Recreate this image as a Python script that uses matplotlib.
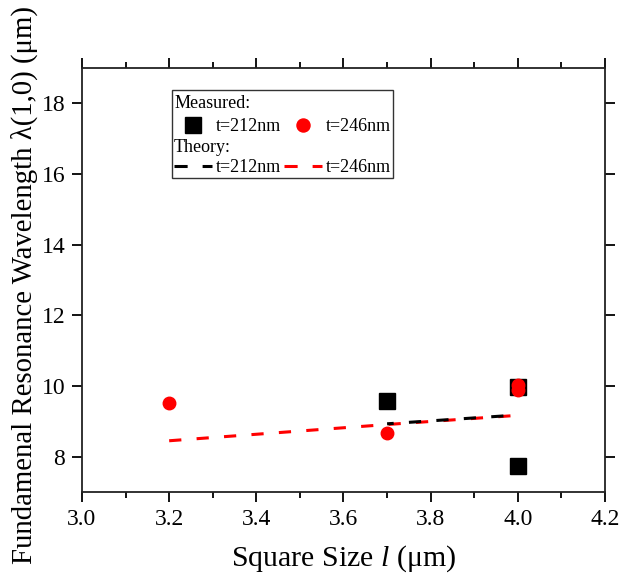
import numpy as np
import matplotlib
matplotlib.use("Agg")
import matplotlib.pyplot as plt
from matplotlib.lines import Line2D
from matplotlib.patches import Rectangle
from matplotlib.ticker import MultipleLocator

plt.rcParams['font.family'] = ['Liberation Serif', 'DejaVu Serif']
plt.rcParams['mathtext.fontset'] = 'custom'
plt.rcParams['mathtext.rm'] = 'Liberation Serif'
plt.rcParams['mathtext.it'] = 'Liberation Serif:italic'

# measured resonance wavelengths
meas212_x = [3.7, 4.0, 4.0]
meas212_y = [9.58, 9.97, 7.73]
meas246_x = [3.2, 3.7, 4.0, 4.0]
meas246_y = [9.53, 8.68, 10.02, 9.88]

# theory curves
theo212_x = [3.7, 4.0]
theo212_y = [8.93, 9.18]
theo246_x = [3.2, 3.7, 4.0]
theo246_y = [8.45, 8.91, 9.17]

LW = 2.2
DASH = (4.0, 5.0)

fig = plt.figure(figsize=(6.21, 5.82), dpi=100)
ax = fig.add_axes([82/621, 90/582, 523/621, 424/582])

ax.set_xlim(3.0, 4.2)
ax.set_ylim(7, 19)

ax.plot(theo246_x, theo246_y, color='red', lw=LW, linestyle=(0, DASH))

# shift black dashes so they sit in the gaps of the red line
p0 = ax.transData.transform((theo246_x[0], theo246_y[0]))
p1 = ax.transData.transform((theo212_x[0], theo212_y[0]))
d_units = np.hypot(*(p1 - p0)) * 72 / fig.dpi / LW
off = (d_units - DASH[0] - 2.7) % sum(DASH)
ax.plot(theo212_x, theo212_y, color='black', lw=LW, linestyle=(off, DASH))

ax.plot(meas212_x, meas212_y, 's', color='black', ms=12, ls='none')
ax.plot(meas246_x, meas246_y, 'o', color='red', ms=9, ls='none')

ax.xaxis.set_major_locator(MultipleLocator(0.2))
ax.xaxis.set_minor_locator(MultipleLocator(0.1))
ax.yaxis.set_major_locator(MultipleLocator(2))
ax.tick_params(which='both', direction='out', top=True, right=True, width=1.3)
ax.tick_params(which='major', length=7, labelsize=17, pad=5)
ax.tick_params(which='minor', length=4)
for s in ax.spines.values():
    s.set_linewidth(1.3)
    s.set_color('#222222')

ax.set_xlabel('Square Size $\\mathit{l}$ (μm)', fontsize=21.5, labelpad=10)
ax.set_ylabel('Fundamenal Resonance Wavelength λ(1,0) (μm)', fontsize=20.7)
ax.yaxis.set_label_coords(-0.085, 0.488)

# legend: two stacked frameless legends in a box
h_sq = Line2D([], [], marker='s', color='black', ls='none', ms=12)
h_ci = Line2D([], [], marker='o', color='red', ls='none', ms=9.4)
h_lb = Line2D([], [], color='black', lw=LW, linestyle=(0, (4.3, 4.9)))
h_lr = Line2D([], [], color='red', lw=LW, linestyle=(0, (4.3, 4.9)))
common = dict(ncol=2, alignment='left', frameon=False, fontsize=13, title_fontsize=13,
              loc='upper left', handlelength=2.1, handletextpad=0.2, columnspacing=0.17,
              borderpad=0.0, borderaxespad=0)
leg1 = ax.legend([h_sq, h_ci], ['t=212nm', 't=246nm'], title='Measured:',
                 bbox_to_anchor=(0.176, 0.937), labelspacing=0.35, **common)
ax.add_artist(leg1)
leg2 = ax.legend([h_lb, h_lr], ['t=212nm', 't=246nm'], title='Theory:',
                 bbox_to_anchor=(0.176, 0.833), labelspacing=0.2, **common)
ax.add_patch(Rectangle((0.172, 0.740), 0.422, 0.208, transform=ax.transAxes,
                       fill=False, edgecolor='#333333', lw=1, zorder=5))

fig.savefig('out.png', dpi=100)
